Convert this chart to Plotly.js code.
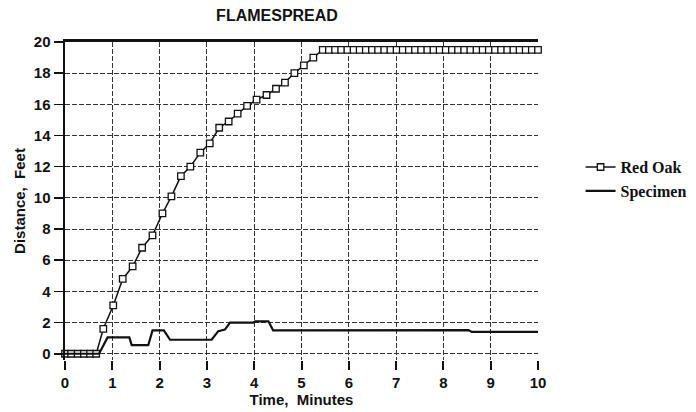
<!DOCTYPE html>
<html>
<head>
<meta charset="utf-8">
<script src="https://cdn.plot.ly/plotly-3.0.1.min.js"></script>
<style>html,body{margin:0;padding:0;background:#fff;}#chart{width:696px;height:412px;}</style>
</head>
<body>
<div id="chart"></div>
<script>
// Red Oak (marked series): time in minutes, distance in feet
const redOakTime = [0, 0.13, 0.27, 0.4, 0.53, 0.66, 0.81, 1.02, 1.22, 1.43, 1.63, 1.85, 2.06, 2.25, 2.45, 2.65, 2.86, 3.06, 3.26, 3.46, 3.65, 3.85, 4.05, 4.26, 4.46, 4.65, 4.85, 5.05, 5.25, 5.45,
  5.58, 5.71, 5.84, 5.97, 6.1, 6.23, 6.36, 6.49, 6.62, 6.75, 6.88, 7.01, 7.14, 7.27, 7.4, 7.53, 7.66, 7.79, 7.92, 8.05, 8.18, 8.31, 8.44, 8.57, 8.7, 8.83, 8.96, 9.09, 9.22, 9.35, 9.48, 9.61, 9.74, 9.87, 10.0];
const redOakDist = [0, 0, 0, 0, 0, 0, 1.6, 3.1, 4.8, 5.6, 6.8, 7.6, 9.0, 10.1, 11.4, 12.0, 12.9, 13.5, 14.5, 14.9, 15.4, 15.9, 16.3, 16.6, 17.0, 17.4, 18.0, 18.5, 19.0, 19.5,
  19.5, 19.5, 19.5, 19.5, 19.5, 19.5, 19.5, 19.5, 19.5, 19.5, 19.5, 19.5, 19.5, 19.5, 19.5, 19.5, 19.5, 19.5, 19.5, 19.5, 19.5, 19.5, 19.5, 19.5, 19.5, 19.5, 19.5, 19.5, 19.5, 19.5, 19.5, 19.5, 19.5, 19.5, 19.5];

// Specimen (plain line)
const specTime = [0, 0.72, 0.9, 1.36, 1.41, 1.76, 1.85, 2.09, 2.22, 3.1, 3.24, 3.38, 3.49, 3.98, 4.02, 4.3, 4.4, 6.0, 8.53, 8.6, 10];
const specDist = [0, 0, 1.05, 1.05, 0.55, 0.55, 1.5, 1.5, 0.9, 0.9, 1.45, 1.55, 2.0, 2.0, 2.08, 2.08, 1.5, 1.52, 1.52, 1.4, 1.4];

// Axis ticks
const xTicks = [0, 1, 2, 3, 4, 5, 6, 7, 8, 9, 10];
const yTicks = [0, 2, 4, 6, 8, 10, 12, 14, 16, 18, 20];

const sansBold = 'Liberation Sans, Arial, sans-serif';

const traces = [
  {
    x: redOakTime, y: redOakDist, name: 'Red Oak', type: 'scatter', mode: 'lines+markers',
    line: {color: '#111', width: 1.5},
    marker: {symbol: 'square', size: 6.5, color: '#fff', line: {color: '#111', width: 1.3}},
    cliponaxis: false
  },
  {
    x: specTime, y: specDist, name: 'Specimen', type: 'scatter', mode: 'lines',
    line: {color: '#111', width: 2.2},
    cliponaxis: false
  },
  {
    x: [0, 10], y: [20, 20], xaxis: 'x2', type: 'scatter', mode: 'lines',
    line: {width: 0}, showlegend: false, hoverinfo: 'skip'
  }
];

const layout = {
  width: 696, height: 412,
  paper_bgcolor: '#fff', plot_bgcolor: '#fff',
  margin: {l: 65, r: 158, t: 42, b: 52, autoexpand: false},
  title: {text: '<b>FLAMESPREAD</b>', x: 0.398, xanchor: 'center', y: 0.962, yanchor: 'middle',
          font: {family: sansBold, size: 16, color: '#111'}},
  xaxis: {
    range: [0, 10], tickvals: xTicks, ticktext: xTicks.map(String),
    showgrid: true, gridcolor: '#333', gridwidth: 1, griddash: '5px,2px',
    zeroline: false, showline: false,
    ticks: 'outside', ticklen: 9, tickwidth: 2, tickcolor: '#111',
    tickfont: {family: sansBold, size: 15, color: '#111', weight: 'bold'},
    title: {text: '<b>Time,&nbsp; Minutes</b>', standoff: 3, font: {family: sansBold, size: 15, color: '#111'}}
  },
  xaxis2: {
    range: [0, 10], overlaying: 'x', side: 'top', showline: true, linewidth: 3, linecolor: '#111',
    showgrid: false, zeroline: false, showticklabels: false, ticks: ''
  },
  yaxis: {
    range: [-0.4, 20], tickvals: yTicks, ticktext: yTicks.map(String),
    showgrid: true, gridcolor: '#333', gridwidth: 1, griddash: '5px,2px',
    zeroline: false, showline: true, linewidth: 2.5, linecolor: '#111',
    ticks: 'outside', ticklen: 9, tickwidth: 1.5, tickcolor: '#111',
    tickfont: {family: sansBold, size: 15, color: '#111', weight: 'bold'},
    title: {text: '<b>Distance,&nbsp; Feet</b>', standoff: 5, font: {family: sansBold, size: 15, color: '#111'}}
  },
  showlegend: true,
  legend: {
    x: 1.09, xanchor: 'left', y: 0.66, yanchor: 'top',
    bgcolor: 'rgba(0,0,0,0)', borderwidth: 0,
    font: {family: 'Liberation Serif, Times New Roman, serif', size: 16, color: '#111', weight: 'bold'},
    tracegroupgap: 0, itemwidth: 30
  }
};

Plotly.newPlot('chart', traces, layout, {displayModeBar: false, staticPlot: true});
</script>
</body>
</html>
